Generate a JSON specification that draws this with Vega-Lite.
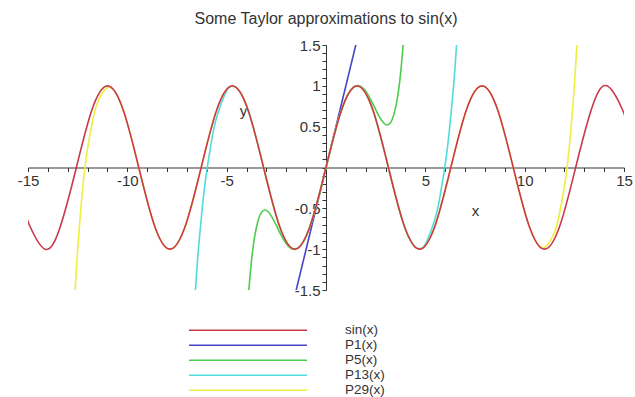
{
  "$schema": "https://vega.github.io/schema/vega-lite/v6.json",
  "width": 596,
  "height": 245,
  "autosize": {"type": "none"},
  "padding": {"left": 28, "top": 45, "right": 11, "bottom": 107},
  "background": "white",
  "title": {"text": "Some Taylor approximations to sin(x)", "font": "Liberation Sans", "fontSize": 16, "fontWeight": "normal", "color": "#333333", "anchor": "middle", "offset": 11},
  "config": {"view": {"stroke": null}, "font": "Liberation Sans"},
  "datasets": {
    "polys": [
      {"f": "P1(x)", "x": -1.6, "y": -1.6},
      {"f": "P1(x)", "x": 1.6, "y": 1.6},
      {"f": "P5(x)", "x": -4, "y": -1.8667},
      {"f": "P5(x)", "x": -3.75, "y": -1.1407},
      {"f": "P5(x)", "x": -3.5, "y": -0.731},
      {"f": "P5(x)", "x": -3.25, "y": -0.5502},
      {"f": "P5(x)", "x": -3, "y": -0.525},
      {"f": "P5(x)", "x": -2.75, "y": -0.5945},
      {"f": "P5(x)", "x": -2.5, "y": -0.7096},
      {"f": "P5(x)", "x": -2.25, "y": -0.8321},
      {"f": "P5(x)", "x": -2, "y": -0.9333},
      {"f": "P5(x)", "x": -1.75, "y": -0.9935},
      {"f": "P5(x)", "x": -1.5, "y": -1.0008},
      {"f": "P5(x)", "x": -1.25, "y": -0.9499},
      {"f": "P5(x)", "x": -1, "y": -0.8417},
      {"f": "P5(x)", "x": -0.75, "y": -0.6817},
      {"f": "P5(x)", "x": -0.5, "y": -0.4794},
      {"f": "P5(x)", "x": -0.25, "y": -0.2474},
      {"f": "P5(x)", "x": 0, "y": 0},
      {"f": "P5(x)", "x": 0.25, "y": 0.2474},
      {"f": "P5(x)", "x": 0.5, "y": 0.4794},
      {"f": "P5(x)", "x": 0.75, "y": 0.6817},
      {"f": "P5(x)", "x": 1, "y": 0.8417},
      {"f": "P5(x)", "x": 1.25, "y": 0.9499},
      {"f": "P5(x)", "x": 1.5, "y": 1.0008},
      {"f": "P5(x)", "x": 1.75, "y": 0.9935},
      {"f": "P5(x)", "x": 2, "y": 0.9333},
      {"f": "P5(x)", "x": 2.25, "y": 0.8321},
      {"f": "P5(x)", "x": 2.5, "y": 0.7096},
      {"f": "P5(x)", "x": 2.75, "y": 0.5945},
      {"f": "P5(x)", "x": 3, "y": 0.525},
      {"f": "P5(x)", "x": 3.25, "y": 0.5502},
      {"f": "P5(x)", "x": 3.5, "y": 0.731},
      {"f": "P5(x)", "x": 3.75, "y": 1.1407},
      {"f": "P5(x)", "x": 4, "y": 1.8667},
      {"f": "P13(x)", "x": -6.6, "y": -1.6007},
      {"f": "P13(x)", "x": -6.5, "y": -1.2449},
      {"f": "P13(x)", "x": -6.4, "y": -0.9362},
      {"f": "P13(x)", "x": -6.2, "y": -0.4304},
      {"f": "P13(x)", "x": -6, "y": -0.0372},
      {"f": "P13(x)", "x": -5.75, "y": 0.3394},
      {"f": "P13(x)", "x": -5.5, "y": 0.618},
      {"f": "P13(x)", "x": -5, "y": 0.9376},
      {"f": "P13(x)", "x": -4.7124, "y": 0.9911},
      {"f": "P13(x)", "x": -4.5, "y": 0.9731},
      {"f": "P13(x)", "x": -3.927, "y": 0.7071},
      {"f": "P13(x)", "x": -3.1416, "y": 0},
      {"f": "P13(x)", "x": -2.3562, "y": -0.7071},
      {"f": "P13(x)", "x": -1.5708, "y": -1},
      {"f": "P13(x)", "x": -0.7854, "y": -0.7071},
      {"f": "P13(x)", "x": 0, "y": 0},
      {"f": "P13(x)", "x": 0.7854, "y": 0.7071},
      {"f": "P13(x)", "x": 1.5708, "y": 1},
      {"f": "P13(x)", "x": 2.3562, "y": 0.7071},
      {"f": "P13(x)", "x": 3.1416, "y": 0},
      {"f": "P13(x)", "x": 3.927, "y": -0.7071},
      {"f": "P13(x)", "x": 4.5, "y": -0.9731},
      {"f": "P13(x)", "x": 4.7124, "y": -0.9911},
      {"f": "P13(x)", "x": 5, "y": -0.9376},
      {"f": "P13(x)", "x": 5.5, "y": -0.618},
      {"f": "P13(x)", "x": 5.75, "y": -0.3394},
      {"f": "P13(x)", "x": 6, "y": 0.0372},
      {"f": "P13(x)", "x": 6.2, "y": 0.4304},
      {"f": "P13(x)", "x": 6.4, "y": 0.9362},
      {"f": "P13(x)", "x": 6.5, "y": 1.2449},
      {"f": "P13(x)", "x": 6.6, "y": 1.6007},
      {"f": "P29(x)", "x": -12.75, "y": -2.1446},
      {"f": "P29(x)", "x": -12.625, "y": -1.5081},
      {"f": "P29(x)", "x": -12.5, "y": -1.0013},
      {"f": "P29(x)", "x": -12.25, "y": -0.2626},
      {"f": "P29(x)", "x": -12, "y": 0.2322},
      {"f": "P29(x)", "x": -11.75, "y": 0.5694},
      {"f": "P29(x)", "x": -11.5, "y": 0.7935},
      {"f": "P29(x)", "x": -11, "y": 0.9791},
      {"f": "P29(x)", "x": -10.5, "y": 0.8747},
      {"f": "P29(x)", "x": -10, "y": 0.5429},
      {"f": "P29(x)", "x": -9.4248, "y": 0},
      {"f": "P29(x)", "x": -8.6394, "y": -0.7071},
      {"f": "P29(x)", "x": -7.854, "y": -1},
      {"f": "P29(x)", "x": -7.0686, "y": -0.7071},
      {"f": "P29(x)", "x": -6.2832, "y": 0},
      {"f": "P29(x)", "x": -5.4978, "y": 0.7071},
      {"f": "P29(x)", "x": -4.7124, "y": 1},
      {"f": "P29(x)", "x": -3.927, "y": 0.7071},
      {"f": "P29(x)", "x": -3.1416, "y": 0},
      {"f": "P29(x)", "x": -2.3562, "y": -0.7071},
      {"f": "P29(x)", "x": -1.5708, "y": -1},
      {"f": "P29(x)", "x": -0.7854, "y": -0.7071},
      {"f": "P29(x)", "x": 0, "y": 0},
      {"f": "P29(x)", "x": 0.7854, "y": 0.7071},
      {"f": "P29(x)", "x": 1.5708, "y": 1},
      {"f": "P29(x)", "x": 2.3562, "y": 0.7071},
      {"f": "P29(x)", "x": 3.1416, "y": 0},
      {"f": "P29(x)", "x": 3.927, "y": -0.7071},
      {"f": "P29(x)", "x": 4.7124, "y": -1},
      {"f": "P29(x)", "x": 5.4978, "y": -0.7071},
      {"f": "P29(x)", "x": 6.2832, "y": 0},
      {"f": "P29(x)", "x": 7.0686, "y": 0.7071},
      {"f": "P29(x)", "x": 7.854, "y": 1},
      {"f": "P29(x)", "x": 8.6394, "y": 0.7071},
      {"f": "P29(x)", "x": 9.4248, "y": 0},
      {"f": "P29(x)", "x": 10, "y": -0.5429},
      {"f": "P29(x)", "x": 10.5, "y": -0.8747},
      {"f": "P29(x)", "x": 11, "y": -0.9791},
      {"f": "P29(x)", "x": 11.5, "y": -0.7935},
      {"f": "P29(x)", "x": 11.75, "y": -0.5694},
      {"f": "P29(x)", "x": 12, "y": -0.2322},
      {"f": "P29(x)", "x": 12.25, "y": 0.2626},
      {"f": "P29(x)", "x": 12.5, "y": 1.0013},
      {"f": "P29(x)", "x": 12.625, "y": 1.5081},
      {"f": "P29(x)", "x": 12.75, "y": 2.1446}
    ],
    "sine": [
      {"f": "sin(x)", "x": -15, "y": -0.6503},
      {"f": "sin(x)", "x": -14.9226, "y": -0.7071},
      {"f": "sin(x)", "x": -14.1372, "y": -1},
      {"f": "sin(x)", "x": -13.3518, "y": -0.7071},
      {"f": "sin(x)", "x": -12.5664, "y": 0},
      {"f": "sin(x)", "x": -11.781, "y": 0.7071},
      {"f": "sin(x)", "x": -10.9956, "y": 1},
      {"f": "sin(x)", "x": -10.2102, "y": 0.7071},
      {"f": "sin(x)", "x": -9.4248, "y": 0},
      {"f": "sin(x)", "x": -8.6394, "y": -0.7071},
      {"f": "sin(x)", "x": -7.854, "y": -1},
      {"f": "sin(x)", "x": -7.0686, "y": -0.7071},
      {"f": "sin(x)", "x": -6.2832, "y": 0},
      {"f": "sin(x)", "x": -5.4978, "y": 0.7071},
      {"f": "sin(x)", "x": -4.7124, "y": 1},
      {"f": "sin(x)", "x": -3.927, "y": 0.7071},
      {"f": "sin(x)", "x": -3.1416, "y": 0},
      {"f": "sin(x)", "x": -2.3562, "y": -0.7071},
      {"f": "sin(x)", "x": -1.5708, "y": -1},
      {"f": "sin(x)", "x": -0.7854, "y": -0.7071},
      {"f": "sin(x)", "x": 0, "y": 0},
      {"f": "sin(x)", "x": 0.7854, "y": 0.7071},
      {"f": "sin(x)", "x": 1.5708, "y": 1},
      {"f": "sin(x)", "x": 2.3562, "y": 0.7071},
      {"f": "sin(x)", "x": 3.1416, "y": 0},
      {"f": "sin(x)", "x": 3.927, "y": -0.7071},
      {"f": "sin(x)", "x": 4.7124, "y": -1},
      {"f": "sin(x)", "x": 5.4978, "y": -0.7071},
      {"f": "sin(x)", "x": 6.2832, "y": 0},
      {"f": "sin(x)", "x": 7.0686, "y": 0.7071},
      {"f": "sin(x)", "x": 7.854, "y": 1},
      {"f": "sin(x)", "x": 8.6394, "y": 0.7071},
      {"f": "sin(x)", "x": 9.4248, "y": 0},
      {"f": "sin(x)", "x": 10.2102, "y": -0.7071},
      {"f": "sin(x)", "x": 10.9956, "y": -1},
      {"f": "sin(x)", "x": 11.781, "y": -0.7071},
      {"f": "sin(x)", "x": 12.5664, "y": 0},
      {"f": "sin(x)", "x": 13.3518, "y": 0.7071},
      {"f": "sin(x)", "x": 14.1372, "y": 1},
      {"f": "sin(x)", "x": 14.9226, "y": 0.7071},
      {"f": "sin(x)", "x": 15, "y": 0.6503}
    ]
  },
  "encoding": {
    "x": {
      "field": "x", "type": "quantitative",
      "scale": {"domain": [-15, 15], "nice": false, "zero": false},
      "axis": {
        "orient": "bottom", "offset": -122.5,
        "values": [-15,-14,-13,-12,-11,-10,-9,-8,-7,-6,-5,-4,-3,-2,-1,0,1,2,3,4,5,6,7,8,9,10,11,12,13,14,15],
        "labelExpr": "datum.value != 0 && datum.value % 5 == 0 ? toString(datum.value) : ''",
        "grid": false, "tickSize": 4, "tickColor": "#333333", "tickWidth": 1,
        "domainColor": "#333333", "domainWidth": 1,
        "labelFont": "Liberation Sans", "labelFontSize": 15, "labelColor": "#333333", "labelPadding": 2,
        "labelOverlap": false, "labelFlush": false, "labelBound": false,
        "title": "x", "titleX": 447, "titleY": 43, "titleAlign": "center", "titleBaseline": "middle",
        "titleFont": "Liberation Sans", "titleFontSize": 15, "titleFontWeight": "normal", "titleColor": "#333333"
      }
    },
    "y": {
      "field": "y", "type": "quantitative",
      "scale": {"domain": [-1.5, 1.5], "nice": false, "zero": false},
      "axis": {
        "orient": "left", "offset": -298,
        "values": [-1.5,-1.4,-1.3,-1.2,-1.1,-1,-0.9,-0.8,-0.7,-0.6,-0.5,-0.4,-0.3,-0.2,-0.1,0,0.1,0.2,0.3,0.4,0.5,0.6,0.7,0.8,0.9,1,1.1,1.2,1.3,1.4,1.5],
        "labelExpr": "datum.value != 0 && abs(datum.value * 2 - round(datum.value * 2)) < 0.01 ? toString(datum.value) : ''",
        "grid": false, "tickSize": 4, "tickColor": "#333333", "tickWidth": 1,
        "domainColor": "#333333", "domainWidth": 1,
        "labelFont": "Liberation Sans", "labelFontSize": 15, "labelColor": "#333333", "labelPadding": 2,
        "labelOverlap": false, "labelFlush": false, "labelBound": false,
        "title": "y", "titleX": -83, "titleY": 65, "titleAngle": 0, "titleAlign": "center", "titleBaseline": "middle",
        "titleFont": "Liberation Sans", "titleFontSize": 15, "titleFontWeight": "normal", "titleColor": "#333333"
      }
    },
    "color": {
      "field": "f", "type": "nominal",
      "scale": {
        "domain": ["sin(x)", "P1(x)", "P5(x)", "P13(x)", "P29(x)"],
        "range": ["#c8394a", "#4646c8", "#4ccc4c", "#50dcdc", "#eeee40"]
      },
      "legend": {
        "orient": "none", "legendX": 160, "legendY": 278, "title": null,
        "direction": "vertical", "padding": 0, "offset": 0,
        "symbolType": "stroke", "symbolSize": 13924, "symbolStrokeWidth": 1.6,
        "clipHeight": 14.5, "rowPadding": 0, "labelOffset": 37,
        "labelFont": "Liberation Sans", "labelFontSize": 13.5, "labelColor": "#333333", "labelLimit": 0
      }
    }
  },
  "layer": [
    {
      "data": {"name": "polys"},
      "mark": {"type": "line", "interpolate": "natural", "clip": true, "strokeWidth": 1.6}
    },
    {
      "data": {"name": "sine"},
      "mark": {"type": "line", "interpolate": "natural", "clip": true, "strokeWidth": 1.6}
    }
  ]
}
